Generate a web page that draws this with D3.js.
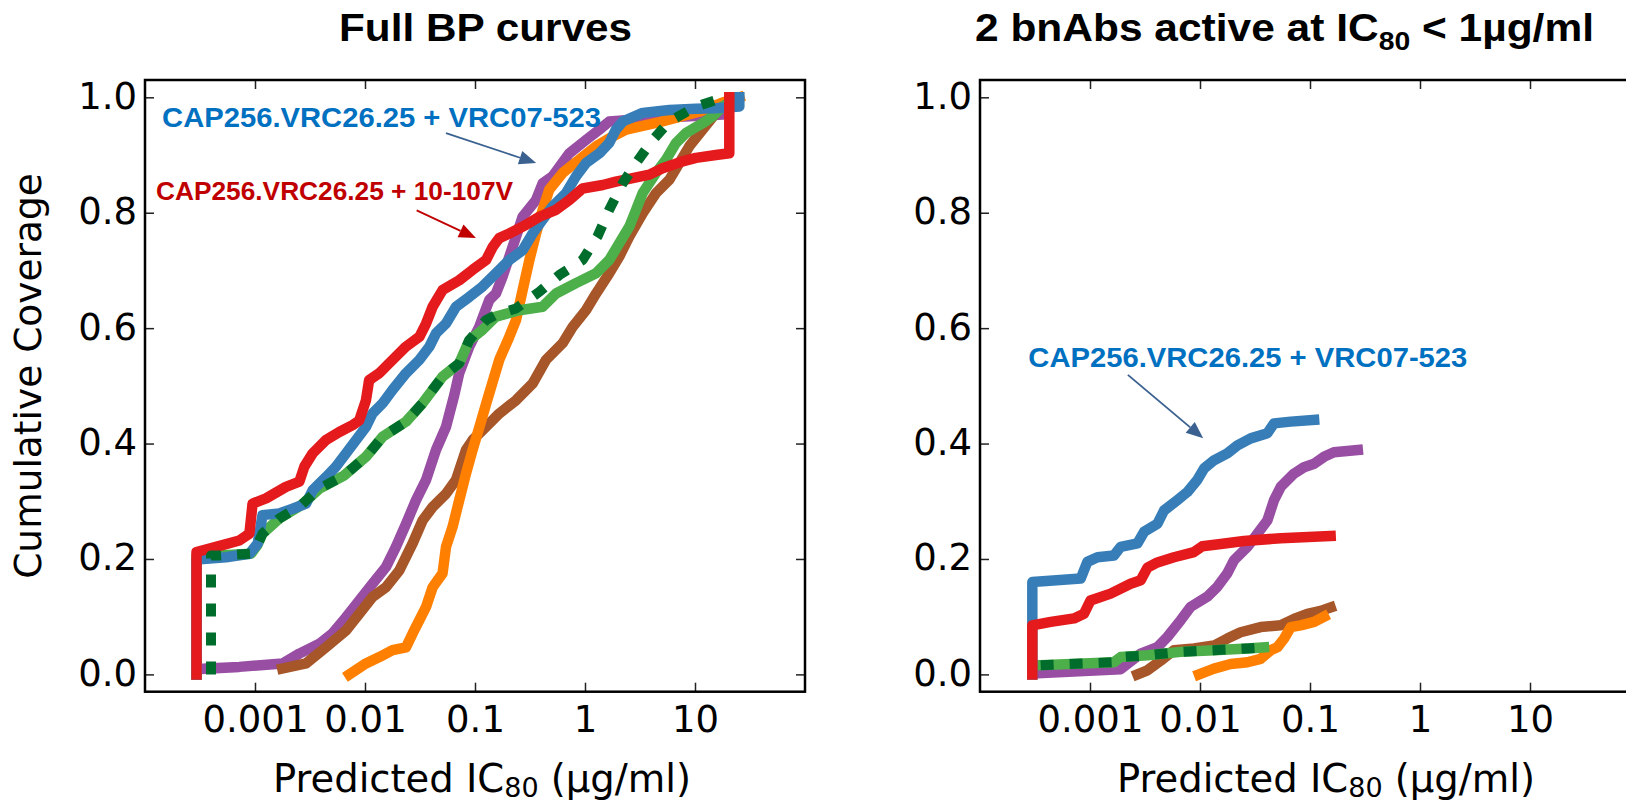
<!DOCTYPE html>
<html>
<head>
<meta charset="utf-8">
<script src="https://cdn.jsdelivr.net/npm/d3@7"></script>
<style>
  html, body { margin: 0; padding: 0; background: #fff; }
  svg { display: block; }
</style>
</head>
<body>
<div id="chart"></div>
<script>
// ---- data (IC80 in ug/ml, cumulative coverage) ----
const xTicks = [0.001, 0.01, 0.1, 1, 10];
const xTickLabels = ["0.001", "0.01", "0.1", "1", "10"];
const yTicks = [0, 0.2, 0.4, 0.6, 0.8, 1.0];
const yTickLabels = ["0.0", "0.2", "0.4", "0.6", "0.8", "1.0"];

// Full BP curves
const fullPurple = [[3.6e-4,0.010],[7.2e-4,0.013],[1.78e-3,0.019],[2.53e-3,0.036],[3.85e-3,0.053],[5.07e-3,0.071],[6.72e-3,0.099],[8.87e-3,0.128],[0.0117,0.157],[0.0155,0.186],[0.0191,0.221],[0.0236,0.261],[0.0291,0.302],[0.0359,0.337],[0.0442,0.389],[0.0545,0.429],[0.0648,0.484],[0.0719,0.522],[0.0887,0.568],[0.109,0.602],[0.135,0.649],[0.155,0.66],[0.178,0.689],[0.22,0.741],[0.271,0.793],[0.359,0.822],[0.412,0.851],[0.507,0.863],[0.72,0.903],[1.02,0.926],[1.35,0.944],[1.66,0.958],[4.42,0.964],[17.8,0.97]];
const fullBrown = [[1.77e-3,0.010],[2.91e-3,0.019],[4.42e-3,0.047],[6.72e-3,0.076],[8.87e-3,0.105],[0.0117,0.134],[0.0155,0.151],[0.0205,0.18],[0.0271,0.227],[0.0334,0.267],[0.0412,0.29],[0.0545,0.313],[0.0672,0.337],[0.0828,0.389],[0.0951,0.406],[0.126,0.429],[0.166,0.452],[0.236,0.475],[0.334,0.504],[0.442,0.545],[0.626,0.574],[0.771,0.602],[1.02,0.631],[1.26,0.66],[1.66,0.695],[2.05,0.724],[2.53,0.759],[3.34,0.799],[4.42,0.834],[5.84,0.857],[7.2,0.886],[8.87,0.915],[11.7,0.944],[15.5,0.973],[20.5,0.996]];
const fullOrange = [[7.2e-3,0.0],[0.0102,0.019],[0.0135,0.03],[0.0178,0.042],[0.0236,0.047],[0.0271,0.071],[0.0312,0.094],[0.0359,0.117],[0.0412,0.151],[0.0507,0.175],[0.0545,0.221],[0.0626,0.256],[0.0719,0.302],[0.0828,0.348],[0.0951,0.389],[0.109,0.427],[0.129,0.475],[0.166,0.545],[0.205,0.585],[0.236,0.614],[0.271,0.666],[0.312,0.718],[0.359,0.764],[0.412,0.805],[0.473,0.84],[0.626,0.869],[0.887,0.892],[1.26,0.915],[1.78,0.932],[2.36,0.944],[4.74,0.957],[10.9,0.975],[18.5,0.992],[25.3,1.0]];
const fullGreen = [[2.94e-4,0],[2.94e-4,0.206],[4.73e-4,0.206],[9.2e-4,0.209],[1.05e-3,0.224],[1.17e-3,0.244],[1.66e-3,0.27],[2.62e-3,0.293],[3.85e-3,0.322],[6.49e-3,0.345],[0.0102,0.377],[0.0145,0.412],[0.0236,0.438],[0.0334,0.47],[0.0507,0.516],[0.0719,0.539],[0.0887,0.579],[0.117,0.597],[0.155,0.62],[0.253,0.631],[0.412,0.637],[0.545,0.66],[0.828,0.678],[1.26,0.695],[1.66,0.718],[2.05,0.747],[2.53,0.776],[2.91,0.805],[3.34,0.834],[4.42,0.869],[5.45,0.892],[6.72,0.921],[8.28,0.938],[11.7,0.955],[14.5,0.967],[17.8,0.984],[22.7,0.996]];
const fullBlue = [[2.94e-4,0],[2.94e-4,0.199],[5.45e-4,0.203],[8.9e-4,0.209],[1.06e-3,0.227],[1.17e-3,0.276],[1.66e-3,0.279],[2.2e-3,0.287],[2.91e-3,0.296],[3.34e-3,0.319],[4.42e-3,0.342],[5.45e-3,0.36],[6.72e-3,0.383],[8.28e-3,0.406],[0.0102,0.429],[0.0117,0.452],[0.0145,0.47],[0.0178,0.493],[0.0236,0.522],[0.0312,0.545],[0.0385,0.568],[0.0442,0.591],[0.0545,0.608],[0.0672,0.637],[0.0887,0.654],[0.117,0.672],[0.155,0.695],[0.205,0.718],[0.271,0.735],[0.334,0.764],[0.412,0.788],[0.507,0.811],[0.671,0.834],[0.828,0.863],[1.02,0.886],[1.35,0.903],[1.66,0.921],[1.91,0.944],[2.2,0.958],[3.34,0.973],[5.84,0.978],[10.2,0.98],[15.5,0.981],[25.3,0.984],[25.3,1.0]];
const fullRed = [[2.94e-4,0],[2.94e-4,0.212],[4.42e-4,0.221],[7.2e-4,0.232],[8.9e-4,0.244],[9.5e-4,0.296],[1.26e-3,0.305],[1.91e-3,0.325],[2.53e-3,0.334],[2.81e-3,0.36],[3.34e-3,0.383],[4.42e-3,0.406],[5.84e-3,0.42],[7.71e-3,0.432],[8.87e-3,0.44],[0.0102,0.475],[0.0109,0.51],[0.0135,0.522],[0.0178,0.545],[0.0236,0.568],[0.0312,0.585],[0.0359,0.608],[0.0412,0.637],[0.0507,0.666],[0.0719,0.683],[0.0951,0.701],[0.126,0.718],[0.145,0.741],[0.166,0.756],[0.205,0.764],[0.291,0.779],[0.385,0.793],[0.545,0.805],[0.72,0.822],[0.95,0.842],[1.45,0.848],[1.91,0.854],[3.85,0.866],[5.07,0.877],[7.71,0.889],[10.2,0.895],[15.5,0.9],[20.5,0.903],[20.5,1.0]];
const fullDotted = [[3.98e-4,0],[3.98e-4,0.206],[4.73e-4,0.206],[9.2e-4,0.209],[1.05e-3,0.224],[1.17e-3,0.244],[1.66e-3,0.27],[2.62e-3,0.293],[3.85e-3,0.322],[6.49e-3,0.345],[0.0102,0.377],[0.0145,0.412],[0.0236,0.438],[0.0334,0.47],[0.0507,0.516],[0.0719,0.539],[0.0887,0.579],[0.126,0.614],[0.155,0.623],[0.236,0.634],[0.385,0.663],[0.584,0.692],[0.95,0.718],[1.3,0.759],[1.66,0.805],[2.2,0.851],[2.91,0.886],[4.12,0.926],[5.84,0.958],[10.2,0.984],[15.5,0.995]];

// 2 bnAbs active at IC80 < 1 ug/ml
const subPurple = [[3.33e-4,0.002],[1.9e-3,0.009],[2.89e-3,0.036],[4.1e-3,0.047],[5.06e-3,0.065],[6.68e-3,0.094],[8.22e-3,0.117],[0.0117,0.135],[0.0144,0.152],[0.0177,0.175],[0.0204,0.198],[0.027,0.221],[0.0333,0.244],[0.041,0.267],[0.0471,0.302],[0.0542,0.325],[0.0716,0.348],[0.0881,0.359],[0.109,0.365],[0.134,0.377],[0.165,0.385],[0.272,0.389]];
const subBrown = [[2.7e-3,0.0],[3.33e-3,0.007],[4.4e-3,0.024],[5.8e-3,0.042],[8.82e-3,0.045],[0.0134,0.05],[0.0177,0.062],[0.0234,0.073],[0.0356,0.082],[0.0542,0.085],[0.0716,0.096],[0.0946,0.105],[0.125,0.11],[0.154,0.116]];
const subOrange = [[9.79e-3,0.0],[0.0134,0.01],[0.019,0.018],[0.027,0.021],[0.0356,0.027],[0.044,0.042],[0.0505,0.047],[0.0581,0.062],[0.0668,0.082],[0.0822,0.085],[0.109,0.091],[0.134,0.1]];
const subGreen = [[3.56e-4,0.016],[1.65e-3,0.021],[1.9e-3,0.03],[3.33e-3,0.033],[6.68e-3,0.039],[0.0134,0.042],[0.027,0.045],[0.0382,0.047]];
const subBlue = [[2.99e-4,0],[2.99e-4,0.16],[8.23e-4,0.166],[9.46e-4,0.195],[1.17e-3,0.203],[1.65e-3,0.206],[1.9e-3,0.221],[2.7e-3,0.227],[3.1e-3,0.247],[4.1e-3,0.261],[4.71e-3,0.284],[6.23e-3,0.302],[7.67e-3,0.316],[9.46e-3,0.337],[0.0109,0.357],[0.0134,0.371],[0.0177,0.383],[0.0219,0.397],[0.0289,0.409],[0.041,0.418],[0.0471,0.435],[0.0668,0.438],[0.109,0.441]];
const subRed = [[2.99e-4,0],[2.99e-4,0.085],[4.4e-4,0.091],[7.16e-4,0.097],[8.82e-4,0.105],[1.01e-3,0.128],[1.54e-3,0.14],[2.34e-3,0.157],[2.89e-3,0.163],[3.33e-3,0.185],[4.1e-3,0.194],[5.8e-3,0.203],[8.82e-3,0.212],[0.0105,0.222],[0.0154,0.226],[0.0251,0.231],[0.0542,0.236],[0.154,0.24]];
const subDotted = [[3.56e-4,0.016],[1.65e-3,0.021],[1.9e-3,0.03],[3.33e-3,0.033],[6.68e-3,0.039],[0.0134,0.042],[0.027,0.045],[0.0382,0.047]];

const W = 1626, H = 802;
const plotW = 660, plotH = 611.7;
const tickFont = "'DejaVu Sans', sans-serif";
const boldFont = "'Liberation Sans', Arial, sans-serif";

const svg = d3.select("#chart").append("svg")
    .attr("width", W).attr("height", H)
    .style("background", "#fff");

const x = d3.scaleLog().domain([1e-4, 100]).range([0, plotW]);
const y = d3.scaleLinear().domain([-0.03, 1.03]).range([plotH, 0]);

const line = d3.line().x(d => x(d[0])).y(d => y(d[1]));

function drawPanel(left, top, series) {
    const g = svg.append("g").attr("transform", `translate(${left},${top})`);

    // curves, back to front
    series.forEach(s => {
        g.append("path")
            .datum(s.data)
            .attr("d", line)
            .attr("fill", "none")
            .attr("stroke", s.color)
            .attr("stroke-width", s.dash ? 10 : 10.5)
            .attr("stroke-linejoin", "round")
            .attr("stroke-linecap", s.dash ? "butt" : "square")
            .attr("stroke-dasharray", s.dash || null);
    });

    // axes with inward ticks on all four sides
    const bottom = g.append("g").attr("transform", `translate(0,${plotH})`)
        .call(d3.axisBottom(x).tickValues(xTicks).tickFormat((d, i) => xTickLabels[i])
            .tickSizeInner(-9).tickSizeOuter(0));
    bottom.selectAll("text").attr("y", 40).attr("dy", null);

    g.append("g")
        .call(d3.axisTop(x).tickValues(xTicks).tickFormat("").tickSizeInner(-9).tickSizeOuter(0));

    const leftAx = g.append("g")
        .call(d3.axisLeft(y).tickValues(yTicks).tickFormat((d, i) => yTickLabels[i])
            .tickSizeInner(-9).tickSizeOuter(0));
    leftAx.selectAll("text").attr("x", -8).attr("dy", null).attr("y", 11);

    g.append("g").attr("transform", `translate(${plotW},0)`)
        .call(d3.axisRight(y).tickValues(yTicks).tickFormat("").tickSizeInner(-9).tickSizeOuter(0));

    g.selectAll(".domain").remove();
    g.selectAll(".tick line").attr("stroke", "#222").attr("stroke-width", 1.5);
    g.selectAll(".tick text")
        .attr("font-family", tickFont).attr("font-size", 37).attr("fill", "#000");

    g.append("rect")
        .attr("width", plotW).attr("height", plotH)
        .attr("fill", "none").attr("stroke", "#000").attr("stroke-width", 2.5);

    return g;
}

function arrow(g, from, to, color) {
    const x1 = x(from[0]), y1 = y(from[1]), x2 = x(to[0]), y2 = y(to[1]);
    const a = Math.atan2(y2 - y1, x2 - x1);
    const len = 17, hw = 7;
    const bx = x2 - len * Math.cos(a), by = y2 - len * Math.sin(a);
    g.append("line")
        .attr("x1", x1).attr("y1", y1).attr("x2", bx).attr("y2", by)
        .attr("stroke", color).attr("stroke-width", 1.8);
    g.append("path")
        .attr("d", `M${x2},${y2}L${bx - hw * Math.sin(a)},${by + hw * Math.cos(a)}L${bx + hw * Math.sin(a)},${by - hw * Math.cos(a)}Z`)
        .attr("fill", color);
}

function label(g, pos, text, color, size, width) {
    const t = g.append("text")
        .attr("x", x(pos[0])).attr("y", y(pos[1]))
        .attr("font-family", boldFont).attr("font-weight", "bold")
        .attr("font-size", size).attr("fill", color)
        .text(text);
    if (width) t.attr("textLength", width).attr("lengthAdjust", "spacingAndGlyphs");
}

const colors = {
    purple: "#984ea3", brown: "#a65628", orange: "#ff7f00", green: "#4daf4a",
    blue: "#377eb8", red: "#e41a1c", dkgreen: "#006d2c"
};
const dotDash = "13,16";

// left panel
const gl = drawPanel(145, 80, [
    { data: fullPurple, color: colors.purple },
    { data: fullBrown, color: colors.brown },
    { data: fullOrange, color: colors.orange },
    { data: fullGreen, color: colors.green },
    { data: fullBlue, color: colors.blue },
    { data: fullRed, color: colors.red },
    { data: fullDotted, color: colors.dkgreen, dash: dotDash }
]);
label(gl, [1.43e-4, 0.949], "CAP256.VRC26.25 + VRC07-523", "#0070c0", 28.5, 439);
arrow(gl, [0.0545, 0.938], [0.36, 0.886], "#3a6190");
label(gl, [1.26e-4, 0.822], "CAP256.VRC26.25 + 10-107V", "#c00000", 26.5, 357);
arrow(gl, [0.0295, 0.804], [0.102, 0.756], "#c00000");

// right panel
const gr = drawPanel(980, 80, [
    { data: subPurple, color: colors.purple },
    { data: subBrown, color: colors.brown },
    { data: subOrange, color: colors.orange },
    { data: subGreen, color: colors.green },
    { data: subBlue, color: colors.blue },
    { data: subRed, color: colors.red },
    { data: subDotted, color: colors.dkgreen, dash: dotDash }
]);
label(gr, [2.75e-4, 0.533], "CAP256.VRC26.25 + VRC07-523", "#0070c0", 28.5, 439);
arrow(gr, [2.21e-3, 0.519], [0.0107, 0.409], "#3a6190");

// titles
svg.append("text")
    .attr("x", 339).attr("y", 41)
    .attr("font-family", boldFont).attr("font-weight", "bold").attr("font-size", 39)
    .attr("textLength", 293).attr("lengthAdjust", "spacingAndGlyphs")
    .text("Full BP curves");

const t2 = svg.append("text")
    .attr("x", 975).attr("y", 41)
    .attr("font-family", boldFont).attr("font-weight", "bold").attr("font-size", 39)
    .attr("textLength", 619).attr("lengthAdjust", "spacingAndGlyphs");
t2.append("tspan").text("2 bnAbs active at IC");
t2.append("tspan").attr("font-size", 26).attr("dy", 8.5).text("80");
t2.append("tspan").attr("dy", -8.5).text(" < 1\u00b5g/ml");

// axis labels
function xLabel(cx) {
    const t = svg.append("text")
        .attr("x", cx).attr("y", 791.5).attr("text-anchor", "middle")
        .attr("font-family", tickFont).attr("font-size", 38.5);
    t.append("tspan").text("Predicted IC");
    t.append("tspan").attr("font-size", 27).attr("dy", 5).text("80");
    t.append("tspan").attr("dy", -5).text(" (\u00b5g/ml)");
}
xLabel(482);
xLabel(1326);

svg.append("text")
    .attr("transform", "translate(41,376) rotate(-90)")
    .attr("text-anchor", "middle")
    .attr("font-family", tickFont).attr("font-size", 37.5)
    .text("Cumulative Coverage");
</script>
</body>
</html>
